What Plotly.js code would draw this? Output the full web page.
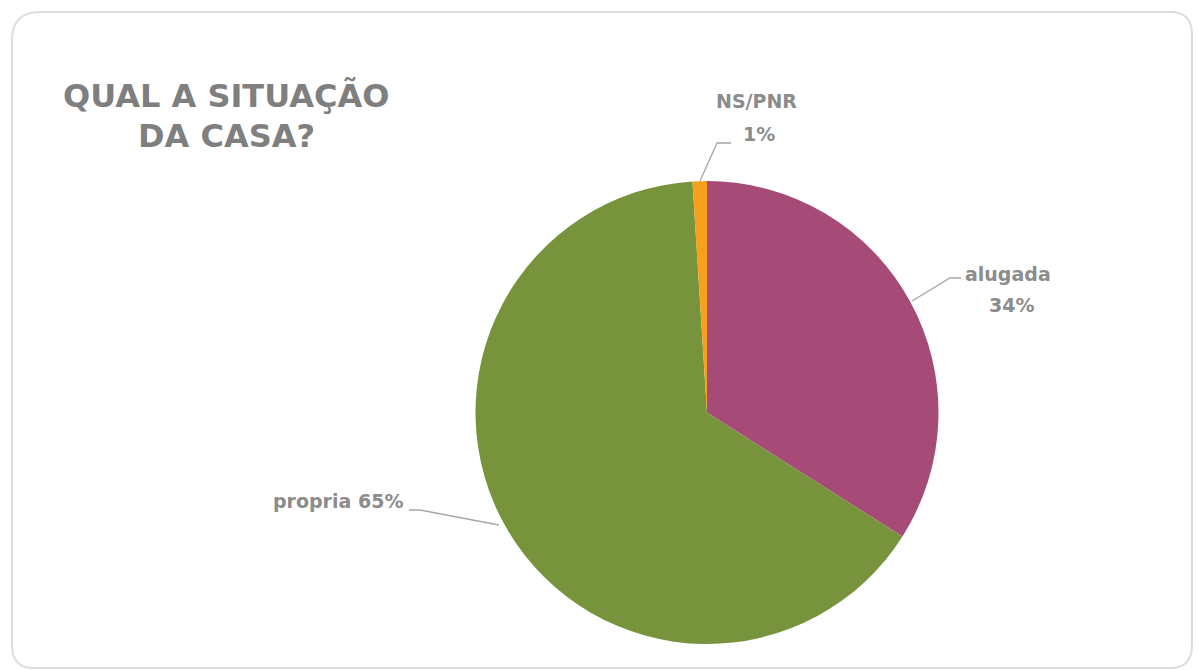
<!DOCTYPE html>
<html>
<head>
<meta charset="utf-8">
<script src="https://cdn.plot.ly/plotly-3.0.1.min.js"></script>
<style>html,body{margin:0;padding:0;background:#fff;}#chart{width:1199px;height:670px;}</style>
</head>
<body>
<div id="chart"></div>
<script>
const categories = ["alugada", "propria", "NS/PNR"];
const values = [34, 65, 1];
const percentLabels = ["34%", "65%", "1%"];
const colors = ["#A64B78", "#77933C", "#F7A11A"];
const titleLines = ["QUAL A SITUAÇÃO", "DA CASA?"];

const W = 1199, H = 670;
const px = x => x / W;
const py = y => 1 - y / H;
const gray = "#8C8C8C";
const lblFont = {family: "DejaVu Sans, Verdana, sans-serif", size: 19, color: gray, weight: "bold"};
const titleFont = {family: "DejaVu Sans, Verdana, sans-serif", size: 32, color: "#7F7F7F", weight: "bold"};

const trace = {
  type: "pie",
  labels: categories,
  values: values,
  sort: false,
  direction: "clockwise",
  rotation: 0,
  marker: {colors: colors, line: {width: 0}},
  textinfo: "none",
  hoverinfo: "label+percent",
  showlegend: false,
  domain: {x: [px(475), px(939)], y: [py(644), py(181)]}
};

function ann(text, x, y, font) {
  return {text: text, x: px(x), y: py(y), xref: "paper", yref: "paper", showarrow: false,
          xanchor: "center", yanchor: "middle", align: "center", font: font};
}

const annotations = [
  ann(titleLines[0], 226, 96, titleFont),
  ann(titleLines[1], 226, 136, titleFont),
  ann(categories[2], 756, 101, lblFont),
  ann(percentLabels[2], 759, 134, lblFont),
  ann(categories[0], 1008, 274, lblFont),
  ann(percentLabels[0], 1011, 305, lblFont),
  ann(categories[1] + " " + percentLabels[1], 338, 501, lblFont)
];

const lineStyle = {color: "#A6A6A6", width: 1.3};
function pathPx(pts) {
  return pts.map((p, i) => (i ? "L" : "M") + px(p[0]) + "," + py(p[1])).join(" ");
}
const shapes = [
  {type: "path", xref: "paper", yref: "paper", path: pathPx([[700,181],[717,143],[731,143]]), line: lineStyle},
  {type: "path", xref: "paper", yref: "paper", path: pathPx([[912,301],[950,278],[961,278]]), line: lineStyle},
  {type: "path", xref: "paper", yref: "paper", path: pathPx([[409,510],[420,510],[499,525]]), line: lineStyle},
  {type: "path", xref: "paper", yref: "paper",
   path: "M" + px(12) + "," + py(40) + " Q" + px(12) + "," + py(12) + " " + px(40) + "," + py(12) +
         " L" + px(1170) + "," + py(12) + " Q" + px(1192) + "," + py(12) + " " + px(1192) + "," + py(34) +
         " L" + px(1192) + "," + py(645) + " Q" + px(1192) + "," + py(668) + " " + px(1170) + "," + py(668) +
         " L" + px(34) + "," + py(668) + " Q" + px(12) + "," + py(668) + " " + px(12) + "," + py(645) + " Z",
   line: {color: "#DDDDDD", width: 2}, fillcolor: "rgba(0,0,0,0)", layer: "below"}
];

const layout = {
  width: W, height: H,
  margin: {l: 0, r: 0, t: 0, b: 0},
  paper_bgcolor: "#FFFFFF",
  plot_bgcolor: "#FFFFFF",
  annotations: annotations,
  shapes: shapes,
  showlegend: false
};

Plotly.newPlot("chart", [trace], layout, {displayModeBar: false, staticPlot: true});
</script>
</body>
</html>
